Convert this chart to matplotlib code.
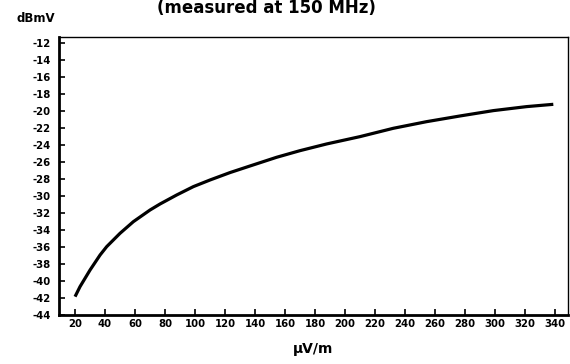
import matplotlib
matplotlib.use("Agg")
import matplotlib.pyplot as plt
import numpy as np

field = [20, 23.3, 30, 36.7, 41.1, 50, 58.9, 70, 76.7, 87.8, 98.9, 110, 123.3, 136.7,
         154.4, 170, 187.8, 210, 232.2, 254.4, 276.7, 298.9, 321.1, 338.9]
level = [-41.84, -40.67, -38.71, -36.94, -35.96, -34.39, -33.02, -31.65, -30.94, -29.88,
         -28.9, -28.12, -27.25, -26.47, -25.45, -24.67, -23.88, -23.02, -22.04, -21.26,
         -20.59, -19.96, -19.49, -19.22]
xticks = list(range(20, 341, 20))
yticks = list(range(-44, -11, 2))

fig = plt.figure(figsize=(5.7, 3.64), dpi=100)
ax = fig.add_axes([0.1035, 0.1346, 0.893, 0.7638])
ax.plot(field, level, color="black", lw=2.3, solid_capstyle="butt", solid_joinstyle="round")
ax.set_xlim(9.3, 348.7)
ax.set_ylim(-44, -11.3)
ax.set_xticks(xticks)
ax.set_xticklabels([str(t) for t in xticks], fontsize=7.3, fontweight="bold")
ax.set_yticks(yticks)
ax.set_yticklabels([str(t) for t in yticks], fontsize=7.3, fontweight="bold")
ax.tick_params(direction="in", length=4, width=1.2)
ax.tick_params(axis="x", pad=3)
ax.tick_params(axis="y", pad=6)
for s in ["left", "bottom"]:
    ax.spines[s].set_linewidth(2.0)
for s in ["top", "right"]:
    ax.spines[s].set_linewidth(1.0)
ax.set_xlabel("µV/m", fontsize=10, fontweight="bold", labelpad=9)
fig.text(0.063, 1 - 19/364, "dBmV", fontsize=8.5, fontweight="bold", ha="center", va="center")
fig.text(0.468, 1 - 13/364, "(measured at 150 MHz)", fontsize=12, fontweight="bold", ha="center", va="baseline")
fig.savefig("out.png", dpi=100)
